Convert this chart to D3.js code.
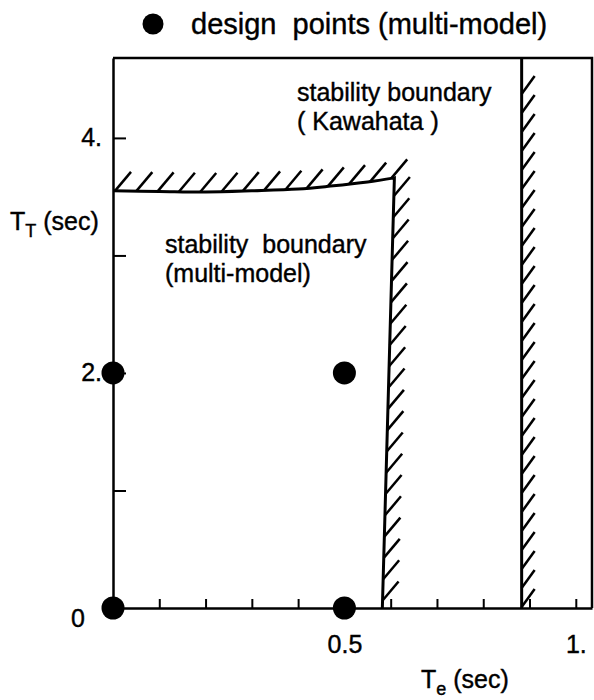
<!DOCTYPE html>
<html>
<head>
<meta charset="utf-8">
<script src="https://cdn.jsdelivr.net/npm/d3@7"></script>
<style>
  body { margin: 0; background: #fff; }
  svg { display: block; }
  text { font-family: "Liberation Sans", Arial, Helvetica, sans-serif; fill: #000; stroke: #000; stroke-width: 0.4px; }
</style>
</head>
<body>
<div id="chart"></div>
<script>
// design points (multi-model)
const designTe = [0, 0, 0.5, 0.5];
const designTT = [0, 2, 2, 0];

// multi-model stability boundary: from the T_T axis, along the top, down to the Te axis
const multiTe = [0, 0.1, 0.2, 0.3, 0.4, 0.47, 0.55, 0.608, 0.582];
const multiTT = [3.55, 3.545, 3.54, 3.55, 3.565, 3.59, 3.625, 3.66, 0];

// Kawahata stability boundary
const kawahataTe = [0.883, 0.883];
const kawahataTT = [0, 4.68];

const xTicks = [0.1, 0.2, 0.3, 0.4, 0.5, 0.6, 0.7, 0.8, 0.9, 1.0];
const xTickLabels = { 0.5: "0.5", 1: "1." };
const yTicks = [1, 2, 3, 4];
const yTickLabels = { 2: "2.", 4: "4." };
const xMax = 1.035, yMax = 4.68;

const width = 594, height = 700;

const svg = d3.select("#chart").append("svg")
  .attr("width", width).attr("height", height);

const x = d3.scaleLinear().domain([0, xMax]).range([113, 592]);
const y = d3.scaleLinear().domain([0, yMax]).range([608, 58]);

const g = svg.append("g");

// axes (ticks point inward)
const axisX = g.append("g")
  .attr("transform", "translate(0," + y(0) + ")")
  .call(d3.axisBottom(x).tickValues(xTicks).tickSizeInner(-9).tickSizeOuter(0).tickPadding(27)
    .tickFormat(d => xTickLabels[d] || ""));
const axisY = g.append("g")
  .attr("transform", "translate(" + x(0) + ",0)")
  .call(d3.axisLeft(y).tickValues(yTicks).tickSizeInner(-13).tickSizeOuter(0).tickPadding(11)
    .tickFormat(d => yTickLabels[d] || ""));

[axisX, axisY].forEach(a => {
  a.select(".domain").attr("stroke", "#000").attr("stroke-width", 2.5);
  a.selectAll(".tick line").attr("stroke", "#000").attr("stroke-width", 2);
  a.selectAll(".tick text").attr("font-size", 25).attr("fill", "#000");
});

// "0" at the origin
g.append("text")
  .attr("x", x(0) - 35).attr("y", y(0) + 19)
  .attr("font-size", 25).attr("text-anchor", "middle").text("0");

// frame top and right
g.append("path")
  .attr("d", d3.line()([[x(0), y(yMax)], [x(xMax), y(yMax)], [x(xMax), y(0)]]))
  .attr("fill", "none").attr("stroke", "#000").attr("stroke-width", 2.5);

// hatch marks along a boundary
const hatch = (path, start, step, stop, dx, dy) => {
  const node = path.node();
  const len = node.getTotalLength();
  const pts = d3.range(start, len - stop, step).map(l => node.getPointAtLength(l));
  g.append("g").selectAll("line").data(pts).join("line")
    .attr("x1", p => p.x).attr("y1", p => p.y)
    .attr("x2", p => p.x + dx).attr("y2", p => p.y + dy)
    .attr("stroke", "#000").attr("stroke-width", 2.5);
};

// multi-model boundary: smooth top, then straight down
const topPts = multiTe.slice(0, -1).map((t, i) => [x(t), y(multiTT[i])]);
const lastPt = [x(multiTe[multiTe.length - 1]), y(multiTT[multiTT.length - 1])];
const multiPath = g.append("path")
  .attr("d", d3.line().curve(d3.curveCatmullRom)(topPts) + "L" + lastPt.join(","))
  .attr("fill", "none").attr("stroke", "#000").attr("stroke-width", 3);
hatch(multiPath, 2, 21.3, 0, 16, -19);

const kawaPath = g.append("path")
  .datum(kawahataTe.map((t, i) => [t, kawahataTT[i]]))
  .attr("d", d3.line().x(d => x(d[0])).y(d => y(d[1])))
  .attr("fill", "none").attr("stroke", "#000").attr("stroke-width", 3);
hatch(kawaPath, 1, 19, 30, 13, -18);

// design points
g.append("g").selectAll("circle")
  .data(designTe.map((t, i) => [t, designTT[i]]))
  .join("circle")
  .attr("cx", d => x(d[0])).attr("cy", d => y(d[1]))
  .attr("r", 11.5).attr("fill", "#000");

// legend
svg.append("circle").attr("cx", 153).attr("cy", 24).attr("r", 10.5).attr("fill", "#000");
svg.append("text").attr("x", 191).attr("y", 34).attr("font-size", 29)
  .attr("xml:space", "preserve").text("design  points (multi-model)");

// boundary labels
const label = (lines, lx, ly) => {
  lines.forEach((s, i) => svg.append("text")
    .attr("font-size", 25).attr("xml:space", "preserve")
    .attr("x", lx).attr("y", ly + i * 28.5).text(s));
};
label(["stability boundary", "( Kawahata )"], 297, 101);
label(["stability  boundary", "(multi-model)"], 165, 253);

// axis titles
const title = (main, sub, rest, tx, ty) => {
  const t = svg.append("text").attr("x", tx).attr("y", ty).attr("font-size", 25);
  t.append("tspan").text(main);
  t.append("tspan").attr("font-size", 18).attr("dy", 7).text(sub);
  t.append("tspan").attr("dy", -7).text(" " + rest);
};
title("T", "T", "(sec)", 10, 230);
title("T", "e", "(sec)", 421, 688);
</script>
</body>
</html>
